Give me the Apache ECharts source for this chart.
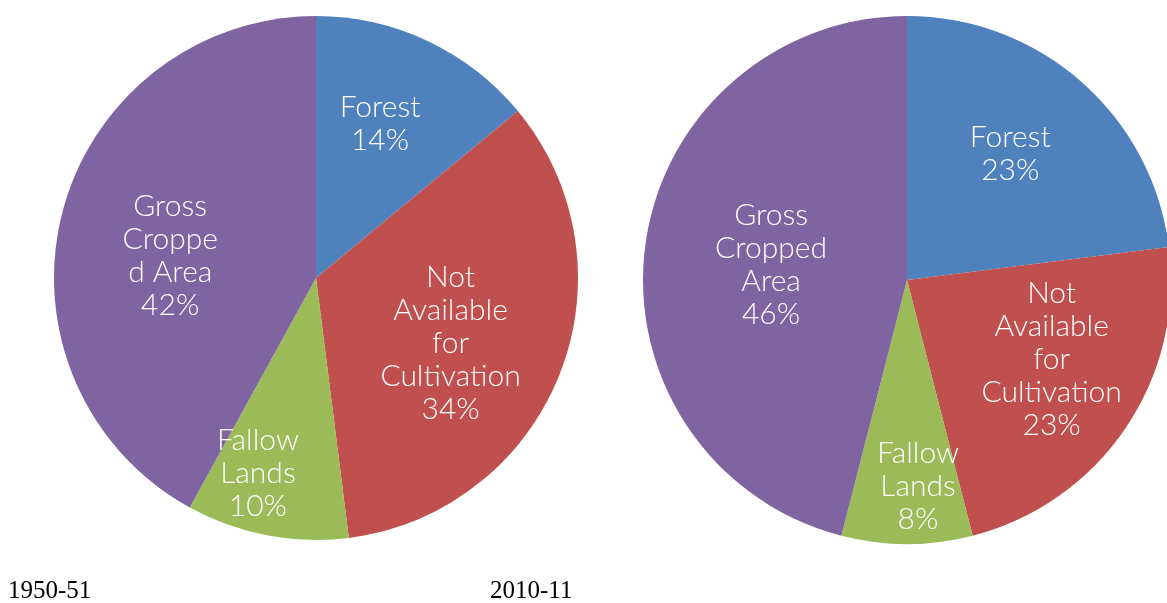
<!DOCTYPE html>
<html>
<head>
<meta charset="utf-8">
<style>
  html, body { margin: 0; padding: 0; background: #ffffff; }
  #chart { width: 1167px; height: 603px; }
</style>
<script src="https://cdn.jsdelivr.net/npm/echarts@6/dist/echarts.min.js"></script>
</head>
<body>
<div id="chart"></div>
<script>
// ---- data ----
const categories = ['Forest', 'Not Available for Cultivation', 'Fallow Lands', 'Gross Cropped Area'];
const labels1951 = ['Forest', 'Not\nAvailable\nfor\nCultivation', 'Fallow\nLands', 'Gross\nCroppe\nd Area'];
const labels2011 = ['Forest', 'Not\nAvailable\nfor\nCultivation', 'Fallow\nLands', 'Gross\nCropped\nArea'];
const values1951 = [14, 34, 10, 42];
const values2011 = [23, 23, 8, 46];
const yearLabels = ['1950-51', '2010-11'];

// ---- styles ----
const colors = ['#4F81BD', '#C0504D', '#9BBB59', '#8064A2'];
// label nudges (dx, dy) from default inside position
const nudge1951 = [[7, -33], [10, 16], [-33, 64], [-16, 11]];
const nudge2011 = [[14, -25], [33, 3], [11, 71], [-2, 2]];

function pieSeries(vals, labs, center, radius, nudges) {
  return {
    type: 'pie',
    center: center,
    radius: radius,
    startAngle: 90,
    clockwise: true,
    animation: false,
    silent: true,
    data: vals.map((v, i) => ({ value: v, name: labs[i], itemStyle: { color: colors[i] } })),
    itemStyle: { borderWidth: 0 },
    label: {
      show: true,
      position: 'inside',
      color: '#ffffff',
      fontFamily: 'Lato',
      fontWeight: 300,
      fontSize: 30,
      lineHeight: 33,
      align: 'center',
      formatter: p => p.name + '\n' + p.value + '%'
    },
    labelLine: { show: false },
    labelLayout: p => ({ dx: nudges[p.dataIndex][0], dy: nudges[p.dataIndex][1] })
  };
}

const chart = echarts.init(document.getElementById('chart'), null, { renderer: 'canvas' });
chart.setOption({
  color: colors,
  backgroundColor: '#ffffff',
  series: [
    pieSeries(values1951, labels1951, [316, 278], 262, nudge1951),
    pieSeries(values2011, labels2011, [907, 280], 264, nudge2011)
  ],
  graphic: [
    { type: 'text', left: 8, top: 579, style: { text: yearLabels[0], font: '25px "Liberation Serif"', fill: '#000000' } },
    { type: 'text', left: 490, top: 579, style: { text: yearLabels[1], font: '25px "Liberation Serif"', fill: '#000000' } }
  ]
});
</script>
</body>
</html>
